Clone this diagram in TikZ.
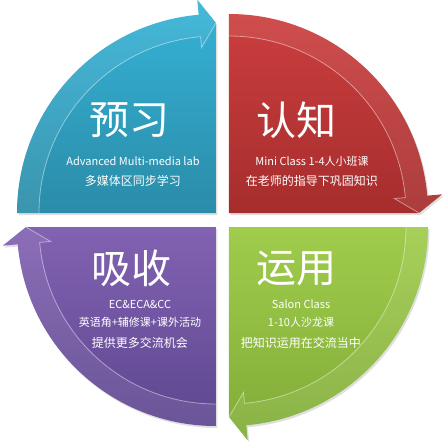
\documentclass[tikz,border=0pt]{standalone}
\usepackage{fontspec}
\setmainfont{Noto Sans CJK SC}
\usepackage{xcolor}
\usetikzlibrary{calc,positioning,shadows}
\definecolor{blueTop}{HTML}{36B3D7}
\definecolor{blueBot}{HTML}{2A8CA8}
\definecolor{redTop}{HTML}{CC3E3E}
\definecolor{redBot}{HTML}{A62D2D}
\definecolor{purpleTop}{HTML}{8262B2}
\definecolor{purpleBot}{HTML}{5E4790}
\definecolor{greenTop}{HTML}{A0CC4C}
\definecolor{greenBot}{HTML}{80AC38}

\begin{document}
\begin{tikzpicture}[x=1pt,y=1pt,node distance=20pt,
                    quad/.style={drop shadow={opacity=0.25,shadow xshift=1.5pt,shadow yshift=-2pt}},
                    band/.style={fill=white,fill opacity=0.08},
                    rim/.style={draw=white,draw opacity=0.45,line width=0.8pt},
                    title/.style={text=white,inner sep=0pt,font=\fontsize{40}{40}\selectfont},
                    info/.style={text=white,inner sep=0pt,font=\fontsize{12}{12}\selectfont},
                    latin/.style={text=white,inner sep=0pt,font=\fontsize{11}{11}\selectfont}]

  \useasboundingbox (-222.5,-225) rectangle (222.5,220);

  \coordinate (cB) at (-6.5,7);
  \coordinate (cR) at (6.5,7);
  \coordinate (cG) at (6.5,-7);
  \coordinate (cP) at (-6.5,-7);

  % blue quarter
  \path[quad,top color=blueTop,bottom color=blueBot] (cB) -- ($(cB)+(180:199)$) arc[start angle=180,end angle=95,radius=199]
    -- ($(cB)+(95:214)$) -- ($(cB)+(90:190)$) -- cycle;
  \path[band] ($(cB)+(180:199)$) arc[start angle=180,end angle=95,radius=199] -- ($(cB)+(95:214)$) -- ($(cB)+(90:190)$)
    -- ($(cB)+(95:166)$) -- ($(cB)+(95:177)$) arc[start angle=95,end angle=180,radius=177] -- cycle;
  \draw[rim] ($(cB)+(180:177)$) arc[start angle=180,end angle=95,radius=177] -- ($(cB)+(95:166)$) -- ($(cB)+(90:190)$);

  % red quarter
  \path[quad,top color=redTop,bottom color=redBot] (cR) -- ($(cR)+(90:199)$) arc[start angle=90,end angle=5,radius=199]
    -- ($(cR)+(5:214)$) -- ($(cR)+(0:190)$) -- cycle;
  \path[band] ($(cR)+(90:199)$) arc[start angle=90,end angle=5,radius=199] -- ($(cR)+(5:214)$) -- ($(cR)+(0:190)$)
    -- ($(cR)+(5:166)$) -- ($(cR)+(5:177)$) arc[start angle=5,end angle=90,radius=177] -- cycle;
  \draw[rim] ($(cR)+(90:177)$) arc[start angle=90,end angle=5,radius=177] -- ($(cR)+(5:166)$) -- ($(cR)+(0:190)$);

  % green quarter
  \path[quad,top color=greenTop,bottom color=greenBot] (cG) -- ($(cG)+(0:199)$) arc[start angle=0,end angle=-85,radius=199]
    -- ($(cG)+(-85:214)$) -- ($(cG)+(-90:190)$) -- cycle;
  \path[band] ($(cG)+(0:199)$) arc[start angle=0,end angle=-85,radius=199] -- ($(cG)+(-85:214)$) -- ($(cG)+(-90:190)$)
    -- ($(cG)+(-85:166)$) -- ($(cG)+(-85:177)$) arc[start angle=-85,end angle=0,radius=177] -- cycle;
  \draw[rim] ($(cG)+(0:177)$) arc[start angle=0,end angle=-85,radius=177] -- ($(cG)+(-85:166)$) -- ($(cG)+(-90:190)$);

  % purple quarter
  \path[quad,top color=purpleTop,bottom color=purpleBot] (cP) -- ($(cP)+(-90:199)$) arc[start angle=-90,end angle=-175,radius=199]
    -- ($(cP)+(-175:214)$) -- ($(cP)+(-180:190)$) -- cycle;
  \path[band] ($(cP)+(-90:199)$) arc[start angle=-90,end angle=-175,radius=199] -- ($(cP)+(-175:214)$) -- ($(cP)+(-180:190)$)
    -- ($(cP)+(-175:166)$) -- ($(cP)+(-175:177)$) arc[start angle=-175,end angle=-90,radius=177] -- cycle;
  \draw[rim] ($(cP)+(-90:177)$) arc[start angle=-90,end angle=-175,radius=177] -- ($(cP)+(-175:166)$) -- ($(cP)+(-180:190)$);

  % texts
  \node[title] (preview) at (-92.5,100) {预习};
  \node[latin] (previewA) at (-89.5,59) {Advanced Multi-media lab};
  \node[info] (previewB) [below of=previewA] {多媒体区同步学习};

  \node[title] (cognize) at (74.5,100) {认知};
  \node[latin] (cognizeA) at (89.5,59) {Mini Class 1-4人小班课};
  \node[info] (cognizeB) [below of=cognizeA] {在老师的指导下巩固知识};

  \node[title] (absorb) at (-90.5,-48) {吸收};
  \node[latin] (absorbA) at (-82.5,-84) {EC\&ECA\&CC};
  \node[latin] (absorbB) [below of=absorbA,node distance=18pt] {英语角+辅修课+课外活动};
  \node[info] (absorbC) [below of=absorbB,node distance=21pt] {提供更多交流机会};

  \node[title] (apply) at (74.5,-48) {运用};
  \node[latin] (applyA) at (78.5,-84) {Salon Class};
  \node[latin] (applyB) [below of=applyA,node distance=18pt] {1-10人沙龙课};
  \node[info] (applyC) [below of=applyB,node distance=21pt] {把知识运用在交流当中};

\end{tikzpicture}
\end{document}
